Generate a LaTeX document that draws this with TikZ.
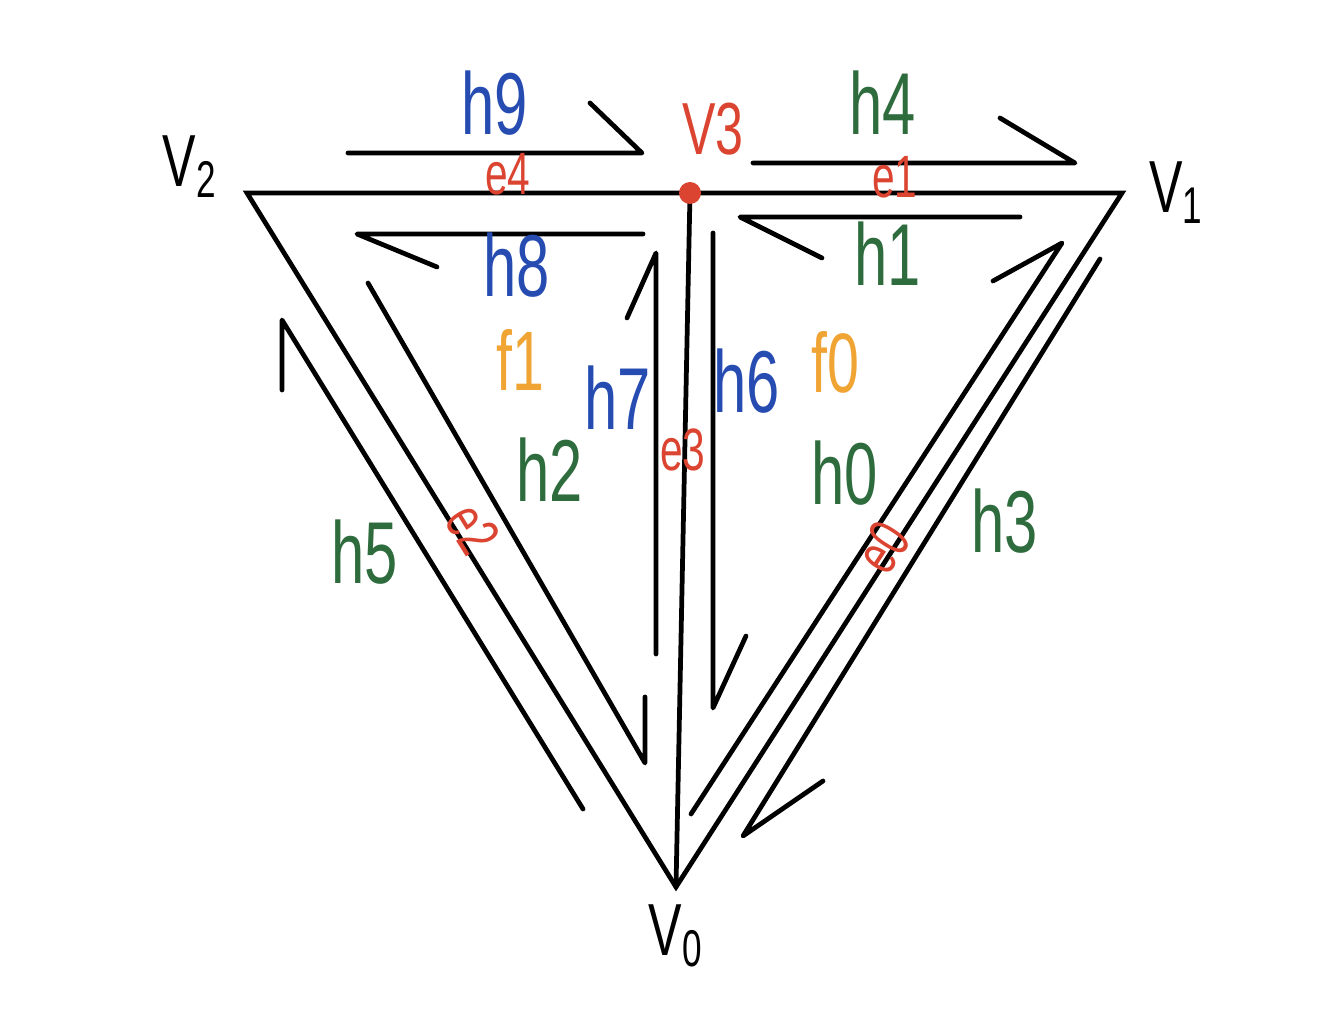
\documentclass[tikz,border=0pt]{standalone}
\usepackage{fontspec}
\usepackage{tikz}
\usetikzlibrary{positioning,calc}
\newfontfamily\handfont{Liberation Sans}[FakeStretch=0.68]
\definecolor{hblue}{RGB}{38,76,178}
\definecolor{hgreen}{RGB}{46,108,62}
\definecolor{hred}{RGB}{219,68,48}
\definecolor{horange}{RGB}{240,164,52}

\begin{document}
\begin{tikzpicture}[line width=1.35pt,line cap=round,
    half edge/.style={line join=round},
    h label/.style={font=\handfont\fontsize{25}{25}\selectfont,inner sep=0pt},
    f label/.style={font=\handfont\fontsize{24}{24}\selectfont,inner sep=0pt,text=horange},
    e label/.style={font=\handfont\fontsize{17}{17}\selectfont,inner sep=0pt,text=hred},
    v label/.style={font=\handfont\fontsize{21}{21}\selectfont,inner sep=0pt}]
    \useasboundingbox (0,0) rectangle (13.44,-10.22);
    % vertices
      \coordinate (v0) at (6.76,-8.87);
      \coordinate (v1) at (11.22,-1.93);
      \coordinate (v2) at (2.47,-1.93);
      \coordinate (v3) at (6.90,-1.93);
      \node[v label] (V0) [below = 0.15cm of v0] {V\textsubscript{0}};
      \node[v label] (V1) [right = 0.25cm of v1] {V\textsubscript{1}};
      \node[v label] (V2) [above left = -0.07cm and 0.27cm of v2] {V\textsubscript{2}};
      \node[v label,text=hred] (V3) [above right = 0.35cm and -0.1cm of v3] {V3};
    % edges
      \draw (v2) -- (v1) -- (v0) -- cycle;
      \draw (v3) -- (v0);
      \fill[hred] (v3) circle (0.11);
    % half edges
      \coordinate (h0a) at (6.91,-8.14);
      \coordinate (h0b) at (10.62,-2.43);
      \coordinate (h0c) at (9.93,-2.81);
      \coordinate (h1a) at (10.20,-2.17);
      \coordinate (h1b) at (7.40,-2.17);
      \coordinate (h1c) at (8.22,-2.58);
      \coordinate (h2a) at (3.68,-2.83);
      \coordinate (h2b) at (6.45,-7.63);
      \coordinate (h2c) at (6.45,-6.97);
      \coordinate (h3a) at (11.00,-2.59);
      \coordinate (h3b) at (7.43,-8.36);
      \coordinate (h3c) at (8.23,-7.81);
      \coordinate (h4a) at (7.53,-1.63);
      \coordinate (h4b) at (10.75,-1.63);
      \coordinate (h4c) at (10.00,-1.18);
      \coordinate (h5a) at (5.83,-8.09);
      \coordinate (h5b) at (2.82,-3.20);
      \coordinate (h5c) at (2.82,-3.90);
      \coordinate (h6a) at (7.13,-2.33);
      \coordinate (h6b) at (7.13,-7.08);
      \coordinate (h6c) at (7.46,-6.36);
      \coordinate (h7a) at (6.56,-6.54);
      \coordinate (h7b) at (6.56,-2.53);
      \coordinate (h7c) at (6.27,-3.18);
      \coordinate (h8a) at (6.43,-2.34);
      \coordinate (h8b) at (3.57,-2.34);
      \coordinate (h8c) at (4.37,-2.67);
      \coordinate (h9a) at (3.48,-1.53);
      \coordinate (h9b) at (6.42,-1.53);
      \coordinate (h9c) at (5.90,-1.03);
      \draw[half edge] (h0a) -- (h0b) -- (h0c);
      \draw[half edge] (h1a) -- (h1b) -- (h1c);
      \draw[half edge] (h2a) -- (h2b) -- (h2c);
      \draw[half edge] (h3a) -- (h3b) -- (h3c);
      \draw[half edge] (h4a) -- (h4b) -- (h4c);
      \draw[half edge] (h5a) -- (h5b) -- (h5c);
      \draw[half edge] (h6a) -- (h6b) -- (h6c);
      \draw[half edge] (h7a) -- (h7b) -- (h7c);
      \draw[half edge] (h8a) -- (h8b) -- (h8c);
      \draw[half edge] (h9a) -- (h9b) -- (h9c);
    % labels
      \node[h label,text=hgreen] (lh0) at (8.45,-4.73) {h0};
      \node[h label,text=hgreen] (lh1) at (8.88,-2.54) {h1};
      \node[h label,text=hgreen] (lh2) at (5.50,-4.70) {h2};
      \node[h label,text=hgreen] (lh3) at (10.05,-5.21) {h3};
      \node[h label,text=hgreen] (lh4) at (8.83,-1.03) {h4};
      \node[h label,text=hgreen] (lh5) at (3.65,-5.52) {h5};
      \node[h label,text=hblue] (lh6) at (7.47,-3.81) {h6};
      \node[h label,text=hblue] (lh7) at (6.18,-3.98) {h7};
      \node[h label,text=hblue] (lh8) at (5.17,-2.65) {h8};
      \node[h label,text=hblue] (lh9) at (4.95,-1.03) {h9};
      \node[f label] (lf0) at (8.35,-3.62) {f0};
      \node[f label] (lf1) at (5.20,-3.60) {f1};
      \node[e label,rotate=57] (le0) at (8.83,-5.47) {e0};
      \node[e label] (le1) at (8.95,-1.77) {e1};
      \node[e label,rotate=-58] (le2) at (4.73,-5.29) {e2};
      \node[e label] (le3) at (6.83,-4.50) {e3};
      \node[e label] (le4) at (5.08,-1.74) {e4};
\end{tikzpicture}
\end{document}
